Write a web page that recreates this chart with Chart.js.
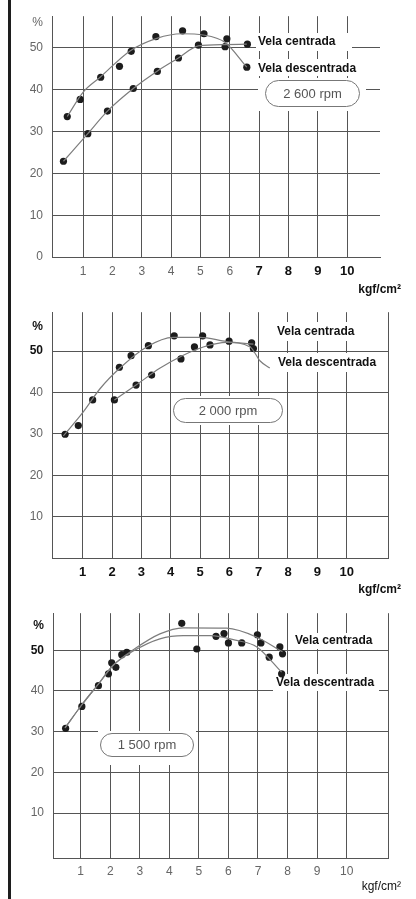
<!DOCTYPE html>
<html>
<head>
<meta charset="utf-8">
<script src="https://cdn.jsdelivr.net/npm/chart.js@4.4.1/dist/chart.umd.min.js"></script>
<style>
  html, body { margin: 0; padding: 0; background: #fff; }
  #page { position: relative; width: 416px; height: 899px; overflow: hidden; }
  #page canvas { position: absolute; left: 0; }
  #edge { position: absolute; left: 8px; top: 0; width: 3px; height: 899px; background: #1e1e1e; }
</style>
</head>
<body>
<div id="page">
  <canvas id="c1" width="416" height="296" style="top:0px"></canvas>
  <canvas id="c2" width="416" height="301" style="top:296px"></canvas>
  <canvas id="c3" width="416" height="302" style="top:597px"></canvas>
  <div id="edge"></div>
</div>
<script>
// axis ticks (kgf/cm2 along x, % along y)
const xTicks = [1, 2, 3, 4, 5, 6, 7, 8, 9, 10];
const yTicks = [0, 10, 20, 30, 40, 50];
const PCT = 56; // value where the "%" caption sits on the y axis

// ---- 2 600 rpm ----
const cent2600X = [0.33, 1.16, 1.83, 2.71, 3.53, 4.25, 4.93, 5.84, 6.6];
const cent2600Y = [22.9, 29.5, 34.9, 40.3, 44.4, 47.6, 50.7, 50.3, 50.9];
const desc2600X = [0.46, 0.9, 1.6, 2.24, 2.64, 3.48, 4.39, 5.12, 5.9, 6.58];
const desc2600Y = [33.6, 37.7, 43.0, 45.6, 49.2, 52.7, 54.1, 53.4, 52.2, 45.4];
// fitted curves as drawn in the figure
const cent2600CurveX = [0.33, 1.16, 1.83, 2.71, 3.51, 4.25, 4.93, 5.84, 6.58];
const cent2600CurveY = [22.9, 29.5, 34.9, 40.3, 44.4, 47.6, 50.5, 50.8, 50.9];
const desc2600CurveX = [0.46, 1.01, 1.58, 2.6, 3.51, 4.36, 5.1, 5.84, 6.58];
const desc2600CurveY = [33.6, 39.5, 43.0, 49.3, 52.3, 53.4, 53.1, 51.3, 45.4];

// ---- 2 000 rpm ----
const cent2000X = [0.40, 0.85, 1.34, 2.25, 2.65, 3.24, 4.12, 5.09, 5.99, 6.76];
const cent2000Y = [29.9, 32.0, 38.2, 46.1, 48.9, 51.3, 53.7, 53.7, 52.4, 52.0];
const desc2000X = [2.08, 2.82, 3.35, 4.35, 4.81, 5.34, 6.82];
const desc2000Y = [38.2, 41.8, 44.2, 48.1, 51.0, 51.5, 50.6];
const cent2000CurveX = [0.34, 1.02, 1.59, 2.27, 3.18, 4.09, 5.0, 5.91, 6.82];
const cent2000CurveY = [29.5, 35.3, 40.9, 45.9, 51.0, 53.3, 53.3, 52.3, 51.7];
const desc2000CurveX = [2.08, 2.82, 3.64, 4.43, 5.11, 5.91, 6.71, 7.05, 7.38];
const desc2000CurveY = [38.2, 41.8, 45.9, 49.0, 51.0, 52.1, 51.0, 47.6, 45.9];

// ---- 1 500 rpm ----
const cent1500X = [0.49, 1.60, 2.05, 2.39, 4.42, 5.58, 5.85, 6.98, 7.74, 7.83];
const cent1500Y = [30.8, 41.3, 46.9, 48.9, 56.6, 53.4, 54.1, 53.8, 50.8, 49.1];
const desc1500X = [1.04, 1.94, 2.19, 2.56, 4.93, 6.0, 6.45, 7.10, 7.38, 7.80];
const desc1500Y = [36.2, 44.2, 45.8, 49.5, 50.3, 51.8, 51.8, 51.8, 48.3, 44.2];
const cent1500CurveX = [0.47, 1.04, 1.6, 2.1, 2.78, 3.68, 4.47, 5.94, 6.96, 7.83];
const cent1500CurveY = [30.9, 36.6, 41.7, 46.3, 50.1, 54.0, 55.5, 55.4, 53.2, 49.6];
const desc1500CurveX = [0.47, 1.04, 1.6, 2.1, 2.78, 3.68, 4.47, 5.38, 6.28, 6.96, 7.80];
const desc1500CurveY = [30.9, 36.6, 41.7, 46.3, 49.8, 52.8, 53.6, 53.6, 52.4, 50.8, 44.6];

const GRID = '#555';
const CURVE = '#7d7d7d';
const DOT = '#1c1c1c';
const FONT = "'Liberation Sans', Arial, sans-serif";

const pts = (xs, ys) => xs.map((x, i) => ({ x: x, y: ys[i] }));
const tickVal = t => (t && t.tick) ? t.tick.value : null;

// white-outs behind the labels go under the data, the text goes on top
const paper = {
  id: 'paper',
  beforeDatasetsDraw(chart, args, o) {
    const ctx = chart.ctx, a = chart.chartArea, dy = o.top;
    ctx.save();
    if (o.rightEdge) {
      const x = Math.round(a.right) + 0.5;
      ctx.strokeStyle = GRID; ctx.lineWidth = 1;
      ctx.beginPath(); ctx.moveTo(x, a.top); ctx.lineTo(x, a.bottom); ctx.stroke();
    }
    ctx.fillStyle = '#fff';
    o.labels.forEach(l => ctx.fillRect(l.box[0], l.box[1] - dy, l.box[2] - l.box[0], l.box[3] - l.box[1]));
    const p = o.pill;
    ctx.fillRect(p.clear[0], p.clear[1] - dy, p.clear[2] - p.clear[0], p.clear[3] - p.clear[1]);
    ctx.restore();
  },
  afterDraw(chart, args, o) {
    const ctx = chart.ctx, dy = o.top, p = o.pill;
    ctx.save();
    ctx.textBaseline = 'middle';
    ctx.fillStyle = '#111';
    ctx.font = 'bold 12px ' + FONT;
    ctx.textAlign = 'left';
    o.labels.forEach(l => ctx.fillText(l.text, l.x, l.y - dy));

    // rpm pill
    const x0 = p.box[0], y0 = p.box[1] - dy, x1 = p.box[2], y1 = p.box[3] - dy, r = (y1 - y0) / 2;
    ctx.beginPath();
    ctx.moveTo(x0 + r, y0 + 0.5);
    ctx.lineTo(x1 - r, y0 + 0.5);
    ctx.arc(x1 - r, y0 + r, r - 0.5, -Math.PI / 2, Math.PI / 2);
    ctx.lineTo(x0 + r, y1 - 0.5);
    ctx.arc(x0 + r, y0 + r, r - 0.5, Math.PI / 2, Math.PI * 1.5);
    ctx.closePath();
    ctx.strokeStyle = '#777'; ctx.lineWidth = 1; ctx.stroke();
    ctx.fillStyle = '#555';
    ctx.font = '13px ' + FONT;
    ctx.textAlign = 'center';
    ctx.fillText(p.text, (x0 + x1) / 2, (y0 + y1) / 2 + 0.5);

    // unit caption
    ctx.fillStyle = '#111';
    ctx.font = (o.unit.bold ? 'bold ' : '') + '12px ' + FONT;
    ctx.textAlign = 'right';
    ctx.fillText('kgf/cm²', o.unit.x, o.unit.y - dy);
    ctx.restore();
  }
};

function makeChart(id, c) {
  new Chart(document.getElementById(id), {
    type: 'scatter',
    data: {
      datasets: [
        { data: pts(c.curves[0][0], c.curves[0][1]), showLine: true, pointRadius: 0, borderColor: CURVE, borderWidth: 1.2, cubicInterpolationMode: 'monotone' },
        { data: pts(c.curves[1][0], c.curves[1][1]), showLine: true, pointRadius: 0, borderColor: CURVE, borderWidth: 1.2, cubicInterpolationMode: 'monotone' },
        { data: pts(c.points[0][0], c.points[0][1]), pointRadius: 3.6, backgroundColor: DOT, borderWidth: 0 },
        { data: pts(c.points[1][0], c.points[1][1]), pointRadius: 3.6, backgroundColor: DOT, borderWidth: 0 }
      ]
    },
    options: {
      responsive: false,
      animation: false,
      events: [],
      layout: { padding: { top: c.padTop, right: c.padRight, left: 0, bottom: 0 } },
      plugins: {
        legend: { display: false },
        tooltip: { enabled: false },
        paper: c.paper
      },
      scales: {
        x: {
          type: 'linear', min: c.xMin, max: c.xMax,
          afterBuildTicks: s => { s.ticks = xTicks.map(v => ({ value: v })); },
          afterFit: s => { s.height = c.xH; },
          grid: { color: GRID, lineWidth: 1, drawTicks: false },
          border: { color: GRID, width: 1 },
          ticks: {
            padding: c.xPad, autoSkip: false, maxRotation: 0,
            color: t => c.xBold(tickVal(t)) ? '#111' : '#666',
            font: t => c.xBold(tickVal(t))
              ? { family: FONT, size: 13, weight: 'bold' }
              : { family: FONT, size: 12, weight: 'normal' }
          }
        },
        y: {
          type: 'linear', min: c.yMin, max: c.yMax,
          afterBuildTicks: s => { s.ticks = c.yTicks.concat([PCT]).map(v => ({ value: v })); },
          afterFit: s => { s.width = c.yW; },
          grid: { color: t => tickVal(t) === PCT ? 'rgba(0,0,0,0)' : GRID, lineWidth: 1, drawTicks: false },
          border: { color: GRID, width: 1 },
          ticks: {
            padding: 9,
            callback: v => v === PCT ? '%' : String(v),
            color: t => c.yBold(tickVal(t)) ? '#111' : '#666',
            font: t => c.yBold(tickVal(t))
              ? { family: FONT, size: 12, weight: 'bold' }
              : { family: FONT, size: 12, weight: 'normal' }
          }
        }
      }
    },
    plugins: [paper]
  });
}

makeChart('c1', {
  curves: [[cent2600CurveX, cent2600CurveY], [desc2600CurveX, desc2600CurveY]],
  points: [[cent2600X, cent2600Y], [desc2600X, desc2600Y]],
  padTop: 13, padRight: 36, yW: 52, xH: 39, xPad: 7,
  xMin: -0.06, xMax: 11.12, yMin: 0, yMax: 57.6,
  yTicks: yTicks,
  xBold: v => v !== null && v >= 7, yBold: v => false,
  paper: {
    top: 0, rightEdge: false,
    labels: [
      { text: 'Vela centrada', x: 258, y: 42, box: [256, 33, 352, 51] },
      { text: 'Vela descentrada', x: 258, y: 69, box: [256, 59, 357, 76] }
    ],
    pill: { text: '2 600 rpm', box: [265, 80, 360, 107], clear: [258, 78, 366, 111] },
    unit: { x: 401, y: 290, bold: true }
  }
});

makeChart('c2', {
  curves: [[cent2000CurveX, cent2000CurveY], [desc2000CurveX, desc2000CurveY]],
  points: [[cent2000X, cent2000Y], [desc2000X, desc2000Y]],
  padTop: 6, padRight: 28, yW: 52, xH: 39, xPad: 7,
  xMin: -0.047, xMax: 11.41, yMin: 0, yMax: 59.4,
  yTicks: yTicks.slice(1),
  xBold: v => true, yBold: v => v !== null && v >= 50,
  paper: {
    top: 296, rightEdge: true,
    labels: [
      { text: 'Vela centrada', x: 277, y: 332, box: [274, 322, 356, 341] },
      { text: 'Vela descentrada', x: 278, y: 363, box: [275, 353, 381, 372] }
    ],
    pill: { text: '2 000 rpm', box: [173, 398, 283, 423], clear: [171, 396, 285, 425] },
    unit: { x: 401, y: 590, bold: true }
  }
});

makeChart('c3', {
  curves: [[cent1500CurveX, cent1500CurveY], [desc1500CurveX, desc1500CurveY]],
  points: [[cent1500X, cent1500Y], [desc1500X, desc1500Y]],
  padTop: 5, padRight: 28, yW: 53, xH: 41, xPad: 6,
  xMin: 0.063, xMax: 11.4, yMin: -1.04, yMax: 59.09,
  yTicks: yTicks.slice(1),
  xBold: v => false, yBold: v => v !== null && v >= 50,
  paper: {
    top: 597, rightEdge: true,
    labels: [
      { text: 'Vela centrada', x: 295, y: 641, box: [292, 633, 379, 649] },
      { text: 'Vela descentrada', x: 276, y: 683, box: [273, 674, 379, 691] }
    ],
    pill: { text: '1 500 rpm', box: [100, 733, 194, 757], clear: [98, 731, 196, 765] },
    unit: { x: 401, y: 887, bold: false }
  }
});
</script>
</body>
</html>
